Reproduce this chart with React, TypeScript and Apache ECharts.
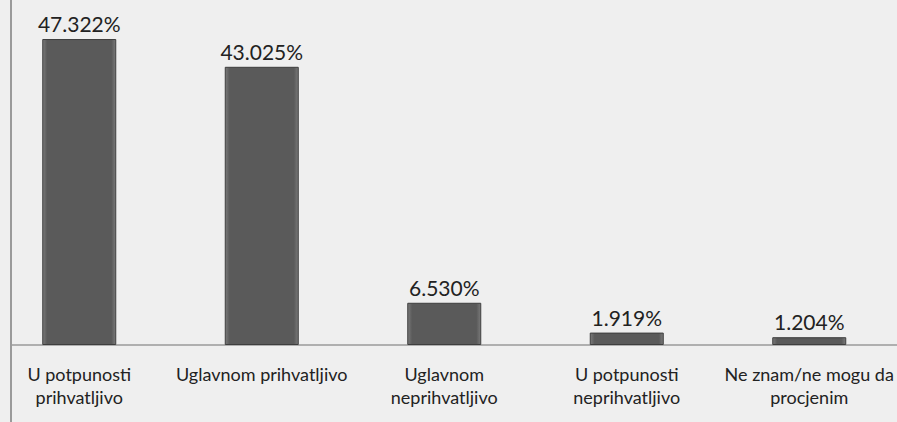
import React, { useEffect, useRef } from "react";
import * as echarts from "echarts";

const categories = [
  "U potpunosti\nprihvatljivo",
  "Uglavnom prihvatljivo",
  "Uglavnom\nneprihvatljivo",
  "U potpunosti\nneprihvatljivo",
  "Ne znam/ne mogu da\nprocjenim",
];
const values = [47.322, 43.025, 6.53, 1.919, 1.204];

export default function App() {
  const ref = useRef<HTMLDivElement>(null);
  useEffect(() => {
    document.body.style.margin = "0";
    const chart = echarts.init(ref.current!, null, { renderer: "svg" });
    chart.setOption({
      animation: false,
      backgroundColor: "#efefef",
      grid: {
        left: -12,
        top: 21.7,
        width: 912.5,
        height: 323.3,
        containLabel: false,
        outerBoundsMode: "none",
      },
      xAxis: {
        type: "category",
        data: categories,
        axisLine: { show: false },
        axisTick: { show: false },
        axisLabel: {
          color: "#222",
          fontFamily: "Lato",
          fontSize: 18,
          lineHeight: 23,
          margin: 17,
          interval: 0,
        },
      },
      yAxis: {
        type: "value",
        min: 0,
        max: 50,
        show: false,
        splitLine: { show: false },
      },
      graphic: [
        {
          type: "line",
          shape: { x1: 11, y1: 0, x2: 11, y2: 422 },
          style: { stroke: "#9a9a9a", lineWidth: 2 },
        },
        {
          type: "line",
          shape: { x1: 11, y1: 345, x2: 897, y2: 345 },
          style: { stroke: "#9a9a9a", lineWidth: 1.5 },
        },
      ],
      series: [
        {
          type: "bar",
          data: values,
          barWidth: 74,
          itemStyle: {
            color: new echarts.graphic.LinearGradient(0, 0, 1, 0, [
              { offset: 0, color: "#7a7a7a" },
              { offset: 0.06, color: "#5a5a5a" },
              { offset: 0.94, color: "#5a5a5a" },
              { offset: 1, color: "#7a7a7a" },
            ]),
            borderColor: "#3e3e3e",
            borderWidth: 1,
          },
          label: {
            show: true,
            position: "top",
            distance: 5,
            color: "#222",
            fontFamily: "Lato",
            fontSize: 21,
            formatter: (p: any) => p.value.toFixed(3) + "%",
          },
        },
      ],
    });
    return () => chart.dispose();
  }, []);
  return <div ref={ref} style={{ width: 897, height: 422 }} />;
}
